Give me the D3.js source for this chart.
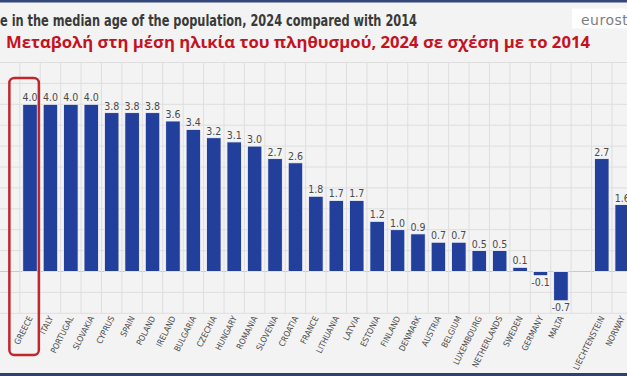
<!DOCTYPE html>
<html><head><meta charset="utf-8">
<script src="https://cdn.jsdelivr.net/npm/d3@7"></script>
<style>
html,body{margin:0;padding:0;background:#f3f3f3;overflow:hidden}
svg{display:block}
.cond{font-family:"DejaVu Sans Condensed","DejaVu Sans",sans-serif;font-stretch:condensed}
</style></head><body>
<svg id="c" width="627" height="376"></svg>
<script>
const categories = ["GREECE","ITALY","PORTUGAL","SLOVAKIA","CYPRUS","SPAIN","POLAND","IRELAND","BULGARIA","CZECHIA","HUNGARY","ROMANIA","SLOVENIA","CROATIA","FRANCE","LITHUANIA","LATVIA","ESTONIA","FINLAND","DENMARK","AUSTRIA","BELGIUM","LUXEMBOURG","NETHERLANDS","SWEDEN","GERMANY","MALTA","","LIECHTENSTEIN","NORWAY"];
const values = [4.0,4.0,4.0,4.0,3.8,3.8,3.8,3.6,3.4,3.2,3.1,3.0,2.7,2.6,1.8,1.7,1.7,1.2,1.0,0.9,0.7,0.7,0.5,0.5,0.1,-0.1,-0.7,null,2.7,1.6];
const yTicks = [-1,-0.5,0,0.5,1,1.5,2,2.5,3,3.5,4,4.5,5];
const titleEn = "e in the median age of the population, 2024 compared with 2014";
const titleGr = "Μεταβολή στη μέση ηλικία του πληθυσμού, 2024 σε σχέση με το 2014";
const highlight = "GREECE";

const svg = d3.select("#c");
const W = 627, H = 376;
svg.append("rect").attr("width",W).attr("height",H).attr("fill","#f3f3f3");

const step = 20.42, x0 = 19.8;
const x = d3.scaleBand().domain(categories).range([x0, x0 + step*categories.length]).paddingInner(0.29).paddingOuter(0.145);
const y = d3.scaleLinear().domain([-1,5]).range([313.3,62.5]);
const fmt = d3.formatLocale({decimal:".",thousands:",",grouping:[3],currency:["",""],minus:"-"}).format(".1f");

// grid
const g = svg.append("g");
g.selectAll("line.h").data(yTicks).join("line")
  .attr("x1",0).attr("x2",W).attr("y1",d=>y(d)).attr("y2",d=>y(d))
  .attr("stroke",d=>d===0?"#c9c9c9":"#dedede").attr("stroke-width",1);
const bounds = d3.range(categories.length+1).map(i=>x0 + i*x.step());
g.selectAll("line.v").data(bounds).join("line")
  .attr("x1",d=>d).attr("x2",d=>d).attr("y1",y(5)).attr("y2",y(-1))
  .attr("stroke","#dedede").attr("stroke-width",1);

const data = categories.map((c,i)=>({c, v:values[i]})).filter(d=>d.c!=="" && d.v!==null);

svg.append("g").selectAll("rect").data(data).join("rect")
  .attr("x",d=>x(d.c)).attr("width",x.bandwidth())
  .attr("y",d=>y(Math.max(0,d.v))).attr("height",d=>Math.abs(y(d.v)-y(0)))
  .attr("fill","#213f9b").attr("stroke","#f7f7fb").attr("stroke-width",0.8);

svg.append("g").selectAll("text").data(data).join("text").attr("class","cond")
  .attr("x",d=>x(d.c)+x.bandwidth()/2)
  .attr("y",d=>d.v>=0 ? y(d.v)-3 : y(d.v)+10)
  .attr("text-anchor","middle").attr("font-size",10.5).attr("fill","#4a4a4a")
  .text(d=>fmt(d.v));

svg.append("g").selectAll("text").data(data).join("text").attr("class","cond")
  .attr("transform",d=>`translate(${x(d.c)+x.bandwidth()/2+3},318) rotate(-63)`)
  .attr("text-anchor","end").attr("font-size",8.4).attr("fill","#4a4a4a")
  .text(d=>d.c);

// highlight box
const hx = x(highlight);
svg.append("rect").attr("x",hx-13.4).attr("y",78).attr("width",x.bandwidth()+15).attr("height",277)
  .attr("rx",5).attr("fill","none").attr("stroke","#c1272d").attr("stroke-width",2.5);

// titles
svg.append("text").attr("class","cond").attr("x",0).attr("y",25.5).attr("font-size",15)
  .attr("font-weight",600).attr("fill","#3a3a3a")
  .attr("textLength",417).attr("lengthAdjust","spacingAndGlyphs").text(titleEn);
svg.append("text").attr("x",6).attr("y",48).attr("font-family","'Open Sans','Noto Sans',sans-serif")
  .attr("font-weight","bold").attr("font-size",16).attr("fill","#c4121f")
  .attr("textLength",584).attr("lengthAdjust","spacingAndGlyphs").text(titleGr);

// eurostat box
svg.append("rect").attr("x",572).attr("y",8.5).attr("width",60).attr("height",20).attr("fill","#ffffff");
svg.append("text").attr("x",581).attr("y",24.5).attr("font-family","'DejaVu Sans',sans-serif")
  .attr("font-size",14).attr("fill","#7d7d7d").attr("letter-spacing",0.5).text("eurostat");

// frame bands
svg.append("rect").attr("x",0).attr("y",0).attr("width",W).attr("height",2.5).attr("fill","#34467a");
svg.append("rect").attr("x",0).attr("y",373).attr("width",W).attr("height",3).attr("fill","#2e3f70");
</script>
</body></html>
